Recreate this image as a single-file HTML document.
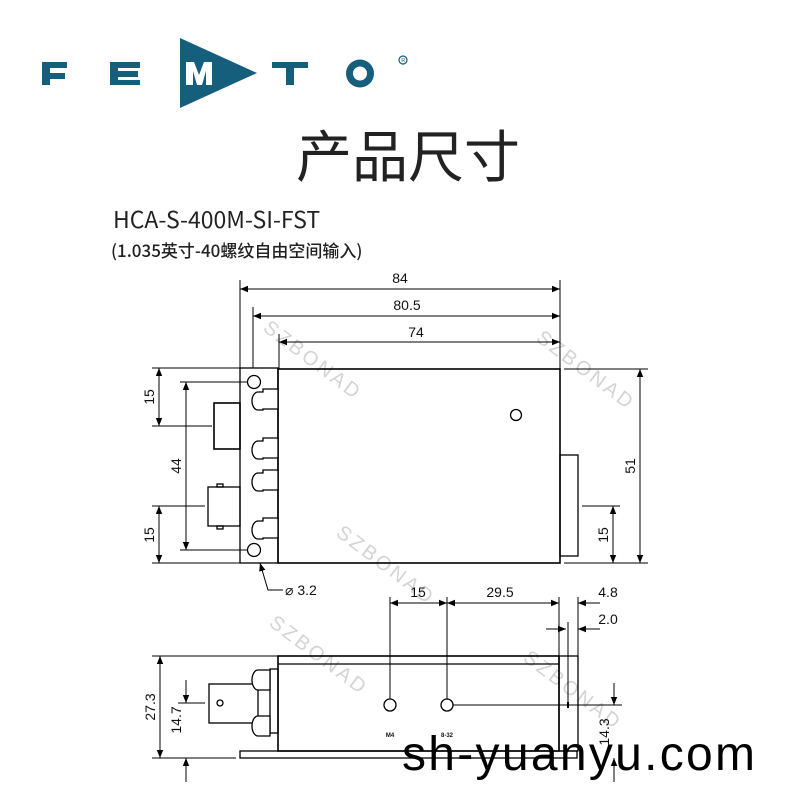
<!DOCTYPE html>
<html><head><meta charset="utf-8"><style>
html,body{margin:0;padding:0;background:#fff;width:800px;height:800px;overflow:hidden}
svg{display:block}
.t{font-family:"Liberation Sans",sans-serif;fill:#111}
</style></head><body>
<svg width="800" height="800" viewBox="0 0 800 800" xmlns="http://www.w3.org/2000/svg">
<defs>
<marker id="a" viewBox="0 0 10 10" refX="10" refY="5" markerWidth="10" markerHeight="8" markerUnits="userSpaceOnUse" orient="auto-start-reverse"><path d="M0,1 L10,5 L0,9z" fill="#000"/></marker>
</defs>
<g fill="#155e7c">
<path d="M42,62h25v6h-17v5h15v6h-15v6h-8z"/>
<path d="M110,62h30v6h-22v3h20v6h-20v3h22v5h-30z"/>
<path d="M180,38 L257,73 L180,108z"/>
<path d="M272,62h36v6h-14v17h-8v-17h-14z"/>
<circle cx="360" cy="73.5" r="14"/>
</g>
<circle cx="360" cy="73.5" r="7" fill="#fff"/>
<path d="M186,62h8l5,13l5,-13h8v23h-6v-14l-4,14h-5l-4,-14v14h-7z" fill="#fff"/>
<circle cx="403" cy="60" r="4" fill="none" stroke="#155e7c" stroke-width="1.2"/>
<text x="401.3" y="62" font-size="5.5" class="t" style="fill:#155e7c">R</text>
<text x="408" y="177" text-anchor="middle" font-size="56" font-family="'Noto Sans CJK SC',sans-serif" fill="#222">产品尺寸</text>
<text x="113" y="228" font-size="23" font-family="'Noto Sans CJK SC',sans-serif" fill="#222">HCA-S-400M-SI-FST</text>
<text x="111" y="257" font-size="17" font-weight="500" font-family="'Noto Sans CJK SC',sans-serif" fill="#222">(1.035英寸-40螺纹自由空间输入)</text>
<g font-family="'Liberation Sans',sans-serif" font-size="20" fill="#d4d4d4" letter-spacing="3">
<text transform="translate(262,330) rotate(37)">SZBONAD</text>
<text transform="translate(535,340) rotate(37)">SZBONAD</text>
<text transform="translate(335,535) rotate(37)">SZBONAD</text>
<text transform="translate(268,625) rotate(37)">SZBONAD</text>
<text transform="translate(522,660) rotate(37)">SZBONAD</text>
</g>
<g stroke="#000" fill="none" stroke-width="1.3">
<rect x="240" y="368" width="38" height="195"/>
<rect x="278" y="369" width="282" height="194" stroke-width="1.6"/>
<circle cx="254" cy="382" r="6.5"/>
<circle cx="254" cy="550" r="6.5"/>
<circle cx="516" cy="415" r="5.5"/>
<rect x="560" y="455" width="18" height="101"/>
<rect x="214" y="403" width="26" height="46" stroke-width="1.6"/>
<rect x="208" y="487" width="32" height="39"/>
<rect x="217" y="484" width="6" height="3"/><rect x="217" y="526" width="6" height="3"/>
<g fill="#fff">
<path d="M258,392 h5 v-3 h15 v20 h-15 v1 h-5 a6,9 0 0 1 0,-18z"/>
<path d="M258,441 h5 v-3 h15 v20 h-15 v1 h-5 a6,9 0 0 1 0,-18z"/>
<path d="M258,473 h5 v-3 h15 v20 h-15 v1 h-5 a6,9 0 0 1 0,-18z"/>
<path d="M258,521 h5 v-3 h15 v20 h-15 v1 h-5 a6,9 0 0 1 0,-18z"/>
</g>
<g stroke-width="1">
<line x1="240" y1="280" x2="240" y2="368"/>
<line x1="253" y1="307" x2="253" y2="368"/>
<line x1="279" y1="334" x2="279" y2="369"/>
<line x1="560" y1="280" x2="560" y2="369"/>
<line x1="240" y1="289" x2="560" y2="289" marker-start="url(#a)" marker-end="url(#a)"/>
<line x1="253" y1="316" x2="560" y2="316" marker-start="url(#a)" marker-end="url(#a)"/>
<line x1="279" y1="342" x2="560" y2="342" marker-start="url(#a)" marker-end="url(#a)"/>
<line x1="152" y1="368" x2="240" y2="368"/>
<line x1="180" y1="382" x2="248" y2="382"/>
<line x1="152" y1="426" x2="212" y2="426"/>
<line x1="152" y1="506" x2="205" y2="506"/>
<line x1="180" y1="550" x2="248" y2="550"/>
<line x1="152" y1="563" x2="240" y2="563"/>
<line x1="159" y1="368" x2="159" y2="426" marker-start="url(#a)" marker-end="url(#a)"/>
<line x1="186" y1="382" x2="186" y2="550" marker-start="url(#a)" marker-end="url(#a)"/>
<line x1="159" y1="506" x2="159" y2="563" marker-start="url(#a)" marker-end="url(#a)"/>
<line x1="564" y1="369" x2="648" y2="369"/>
<line x1="564" y1="563" x2="648" y2="563"/>
<line x1="582" y1="506" x2="620" y2="506"/>
<line x1="640" y1="369" x2="640" y2="563" marker-start="url(#a)" marker-end="url(#a)"/>
<line x1="613" y1="506" x2="613" y2="563" marker-start="url(#a)" marker-end="url(#a)"/>
<polyline points="283,590 268,590 260,563" marker-end="url(#a)"/>
</g>
<rect x="278" y="656" width="281" height="95" stroke-width="1.6"/>
<line x1="278" y1="664" x2="559" y2="664"/>
<rect x="240" y="751" width="337" height="7"/>
<rect x="559" y="656" width="19" height="95"/>
<rect x="209" y="684" width="49" height="39"/>
<circle cx="220" cy="703" r="3"/>
<rect x="270" y="669" width="8" height="64"/>
<g fill="#fff">
<path d="M258,670 h12 v20 h-12 a6,10 0 0 1 0,-20z"/>
<path d="M258,716 h12 v20 h-12 a6,10 0 0 1 0,-20z"/>
</g>
<circle cx="390" cy="705" r="6"/>
<circle cx="447" cy="705" r="6"/>
<g stroke-width="1">
<line x1="390" y1="597" x2="390" y2="699"/>
<line x1="447" y1="597" x2="447" y2="699"/>
<line x1="559" y1="597" x2="559" y2="656"/>
<line x1="578" y1="597" x2="578" y2="656"/>
<line x1="568" y1="622" x2="568" y2="706"/>
<line x1="390" y1="603" x2="447" y2="603" marker-start="url(#a)" marker-end="url(#a)"/>
<line x1="447" y1="603" x2="559" y2="603" marker-start="url(#a)" marker-end="url(#a)"/>
<line x1="600" y1="603" x2="578" y2="603" marker-end="url(#a)"/>
<line x1="546" y1="629" x2="566" y2="629" marker-end="url(#a)"/>
<line x1="600" y1="629" x2="578" y2="629" marker-end="url(#a)"/>
<line x1="152" y1="656" x2="278" y2="656"/>
<line x1="178" y1="703" x2="205" y2="703"/>
<line x1="152" y1="758" x2="236" y2="758"/>
<line x1="160" y1="656" x2="160" y2="758" marker-start="url(#a)" marker-end="url(#a)"/>
<line x1="186" y1="680" x2="186" y2="703" marker-end="url(#a)"/>
<line x1="186" y1="782" x2="186" y2="758" marker-end="url(#a)"/>
<line x1="453" y1="705" x2="622" y2="705"/>
<line x1="614" y1="683" x2="614" y2="705" marker-end="url(#a)"/>
<line x1="614" y1="782" x2="614" y2="758" marker-end="url(#a)"/>
</g>
</g>
<rect x="567" y="702" width="2" height="6" fill="#000"/>
<g class="t" font-size="14">
<text x="400" y="283" text-anchor="middle">84</text>
<text x="407" y="310" text-anchor="middle">80.5</text>
<text x="416" y="337" text-anchor="middle">74</text>
<text transform="translate(154,397) rotate(-90)" text-anchor="middle">15</text>
<text transform="translate(181,466) rotate(-90)" text-anchor="middle">44</text>
<text transform="translate(154,535) rotate(-90)" text-anchor="middle">15</text>
<text transform="translate(635,466) rotate(-90)" text-anchor="middle">51</text>
<text transform="translate(608,535) rotate(-90)" text-anchor="middle">15</text>
<text x="285" y="595">⌀ 3.2</text>
<text x="418" y="597" text-anchor="middle">15</text>
<text x="500" y="597" text-anchor="middle">29.5</text>
<text x="608" y="597" text-anchor="middle">4.8</text>
<text x="608" y="624" text-anchor="middle">2.0</text>
<text transform="translate(155,707) rotate(-90)" text-anchor="middle">27.3</text>
<text transform="translate(181,720) rotate(-90)" text-anchor="middle">14.7</text>
<text transform="translate(609,732) rotate(-90)" text-anchor="middle">14.3</text>
<text x="390" y="737" text-anchor="middle" font-size="6" font-weight="bold">M4</text>
<text x="447" y="737" text-anchor="middle" font-size="6" font-weight="bold">8-32</text>
</g>
<text x="402" y="770" font-family="'Liberation Sans',sans-serif" font-size="48" fill="#000" textLength="353" lengthAdjust="spacing">sh-yuanyu.com</text>
</svg>
</body></html>
